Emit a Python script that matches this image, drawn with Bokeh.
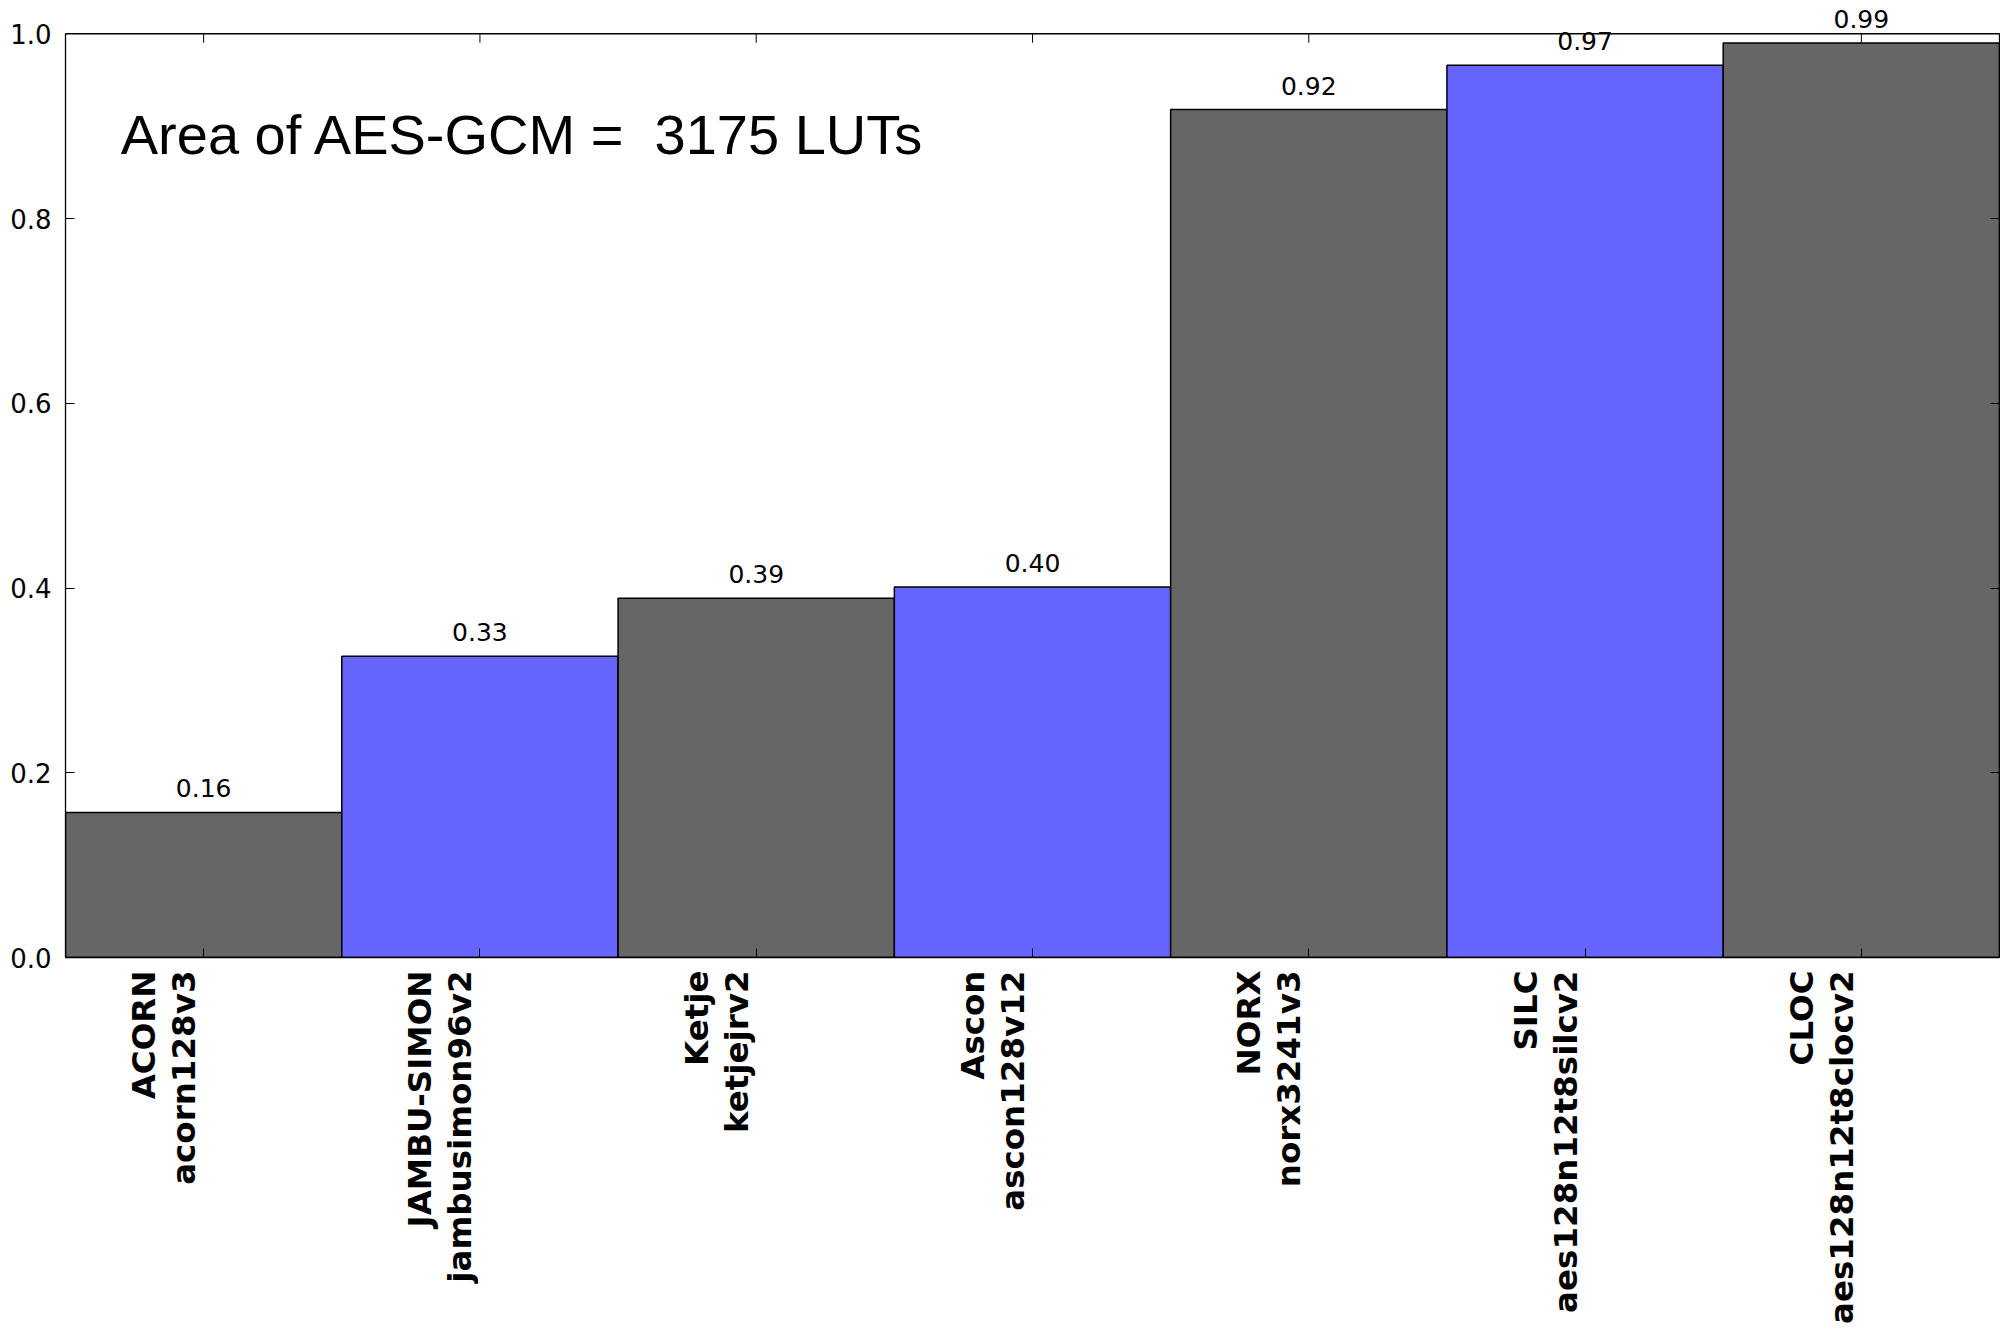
import math
from bokeh.plotting import figure
from bokeh.models import (ColumnDataSource, Range1d, LabelSet, Label, LinearAxis, FixedTicker,
                          PrintfTickFormatter, CustomLabelingPolicy, Span)
from bokeh.core.properties import value
from bokeh.embed import file_html
from bokeh.resources import INLINE

# ---- data ----
families = ["ACORN", "JAMBU-SIMON", "Ketje", "Ascon", "NORX", "SILC", "CLOC"]
variants = ["acorn128v3", "jambusimon96v2", "ketjejrv2", "ascon128v12",
            "norx3241v3", "aes128n12t8silcv2", "aes128n12t8clocv2"]
ratios = [0.157, 0.326, 0.389, 0.401, 0.918, 0.966, 0.990]
bar_colors = ["#666666", "#6666ff", "#666666", "#6666ff", "#666666", "#6666ff", "#666666"]
y_ticks = [0.0, 0.2, 0.4, 0.6, 0.8, 1.0]
note = "Area of AES-GCM =  3175 LUTs"

pos = list(range(len(families)))
src = ColumnDataSource(dict(pos=pos, name=families, ratio=ratios, color=bar_colors,
                            value_text=[f"{r:.2f}" for r in ratios]))

y_lo, y_hi = y_ticks[0], y_ticks[-1]
headroom = 0.036          # space above the axes box for the top value label
label_shift = 0.143       # moves rotated category labels so their right edge sits on the tick

p = figure(x_range=Range1d(-0.5, len(families) - 0.5), y_range=Range1d(y_lo, y_hi + headroom),
           width=2000, height=1328, output_backend="svg", toolbar_location=None,
           min_border_left=65, min_border_right=1, min_border_top=0, min_border_bottom=371)
p.background_fill_color = "white"
p.border_fill_color = "white"
p.outline_line_color = None
p.xgrid.visible = False
p.ygrid.visible = False

# bars
p.vbar(x="pos", top="ratio", bottom=0, width=1.0, fill_color="color",
       line_color="black", line_width=1.5, source=src)

hide_labels = CustomLabelingPolicy(code="for (const i of indices) { indices.unset(i) } return indices")

# y axis (left)
ya = p.yaxis[0]
ya.ticker = FixedTicker(ticks=y_ticks)
ya.formatter = PrintfTickFormatter(format="%.1f")
ya.bounds = (y_lo, y_hi)
ya.major_tick_in = 9
ya.major_tick_out = 0
ya.minor_tick_in = 0
ya.minor_tick_out = 0
ya.major_label_standoff = 14
ya.major_label_text_font = "DejaVu Sans"
ya.major_label_text_font_size = "26px"
ya.major_label_text_color = "black"
ya.axis_line_color = "black"
ya.axis_line_width = 1.3
ya.major_tick_line_color = "black"

# right side: box edge + inward ticks
right_ax = LinearAxis(ticker=FixedTicker(ticks=y_ticks), bounds=(y_lo, y_hi),
                      major_tick_in=9, major_tick_out=0, minor_tick_in=0, minor_tick_out=0,
                      major_label_text_font_size="0px", major_label_standoff=0,
                      major_label_policy=hide_labels,
                      axis_line_color="black", axis_line_width=1.3, major_tick_line_color="black")
p.add_layout(right_ax, "right")

# x axis (bottom): box edge + inward ticks
xa = p.xaxis[0]
xa.ticker = FixedTicker(ticks=pos)
xa.major_tick_in = 9
xa.major_tick_out = 0
xa.minor_tick_in = 0
xa.minor_tick_out = 0
xa.major_label_text_font_size = "0px"
xa.major_label_standoff = 0
xa.major_label_policy = hide_labels
xa.axis_line_color = "black"
xa.axis_line_width = 1.3
xa.major_tick_line_color = "black"

# category labels: rotated two-line tick labels
p.extra_x_ranges = {"labels": Range1d(-0.5 + label_shift, len(families) - 0.5 + label_shift)}
lab_ax = LinearAxis(x_range_name="labels", ticker=FixedTicker(ticks=pos),
                    major_label_overrides={x: f"{f}\n{v}" for x, f, v in zip(pos, families, variants)},
                    major_label_orientation=math.pi / 2,
                    major_tick_in=0, major_tick_out=0, minor_tick_in=0, minor_tick_out=0,
                    major_tick_line_color=None, axis_line_color=None,
                    major_label_standoff=13,
                    major_label_text_font="DejaVu Sans", major_label_text_font_style="bold",
                    major_label_text_font_size="32.5px", major_label_text_line_height=1.05,
                    major_label_text_color="black")
p.add_layout(lab_ax, "below")

# top edge of the box + inward ticks
p.add_layout(Span(location=y_hi, dimension="width", line_color="black", line_width=1.3))
p.ray(x=pos, y=y_hi, length=9, length_units="screen", angle=-math.pi / 2,
      line_color="black", line_width=1)

# value labels above bars
p.add_layout(LabelSet(x="pos", y="ratio", text="value_text", source=src,
                      y_offset=15, text_align="center", text_baseline="alphabetic",
                      text_font=value("DejaVu Sans"), text_font_size="25px",
                      text_color="black"))

# note
p.add_layout(Label(x=-0.3, y=0.891, text=note.replace("  ", " \u00a0"),
                   text_align="left", text_baseline="alphabetic",
                   text_font="Liberation Sans", text_font_size="56px", text_color="black"))

open("out.html", "w").write(file_html(p, INLINE))
